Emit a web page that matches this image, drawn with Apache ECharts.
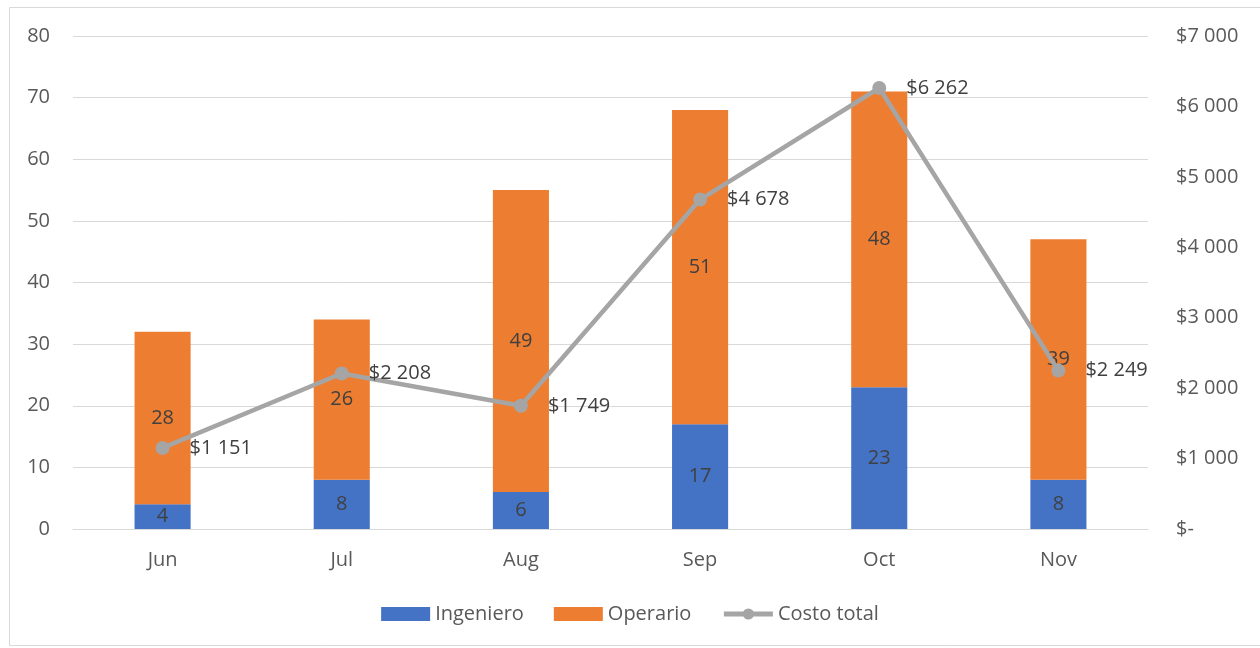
<!DOCTYPE html>
<html>
<head>
<meta charset="utf-8">
<script src="https://cdn.jsdelivr.net/npm/echarts@6/dist/echarts.min.js"></script>
<style>
  html, body { margin: 0; padding: 0; background: #fff; }
  #chart { width: 1260px; height: 648px; }
</style>
</head>
<body>
<div id="chart"></div>
<script>
// Monthly headcount by role (stacked bars) and total cost (line, right axis)
const months = ['Jun', 'Jul', 'Aug', 'Sep', 'Oct', 'Nov'];
const ingeniero = [4, 8, 6, 17, 23, 8];
const operario = [28, 26, 49, 51, 48, 39];
const costoTotal = [1151, 2208, 1749, 4678, 6262, 2249];

const FONT = '"Open Sans", "Liberation Sans", sans-serif';
const TEXT = '#595959';
const LABEL = '#404040';
const FS = 20;

function money(v) {
  if (v === 0) return '$-';
  const s = Math.round(v).toString().replace(/\B(?=(\d{3})+(?!\d))/g, ' ');
  return '$' + s;
}

const chart = echarts.init(document.getElementById('chart'), null, { renderer: 'canvas' });
chart.setOption({
  animation: false,
  backgroundColor: '#ffffff',
  textStyle: { fontFamily: FONT },
  graphic: [{
    type: 'rect',
    shape: { x: 9.5, y: 7.5, width: 1260, height: 638 },
    style: { fill: 'none', stroke: '#d9d9d9', lineWidth: 1 },
    silent: true,
    z: -1
  }],
  grid: { left: 73, right: 112, top: 36, bottom: 119 },
  legend: {
    bottom: 19,
    left: 'center',
    itemGap: 30,
    itemWidth: 49,
    itemHeight: 14,
    textStyle: { color: TEXT, fontSize: FS, fontFamily: FONT },
    data: [
      { name: 'Ingeniero', icon: 'rect' },
      { name: 'Operario', icon: 'rect' },
      { name: 'Costo total', lineStyle: { width: 5, color: '#a5a5a5' } }
    ]
  },
  xAxis: {
    type: 'category',
    data: months,
    axisLine: { show: true, lineStyle: { color: '#d9d9d9', width: 1 } },
    axisTick: { show: false },
    axisLabel: { color: TEXT, fontSize: FS, margin: 21, fontFamily: FONT }
  },
  yAxis: [{
    type: 'value',
    min: 0,
    max: 80,
    interval: 10,
    axisLine: { show: false },
    axisTick: { show: false },
    splitLine: { lineStyle: { color: '#d9d9d9', width: 1 } },
    axisLabel: { color: TEXT, fontSize: FS, margin: 23, fontFamily: FONT }
  }, {
    type: 'value',
    min: 0,
    max: 7000,
    interval: 1000,
    position: 'right',
    axisLine: { show: false },
    axisTick: { show: false },
    splitLine: { show: false },
    axisLabel: {
      color: TEXT, fontSize: FS, margin: 28, fontFamily: FONT,
      formatter: money
    }
  }],
  series: [{
    name: 'Ingeniero',
    type: 'bar',
    stack: 'personal',
    barWidth: '31.3%',
    data: ingeniero,
    itemStyle: { color: '#4472c4' },
    label: { show: true, position: 'inside', color: LABEL, fontSize: FS, fontFamily: FONT }
  }, {
    name: 'Operario',
    type: 'bar',
    stack: 'personal',
    barWidth: '31.3%',
    data: operario,
    itemStyle: { color: '#ed7d31' },
    label: { show: true, position: 'inside', color: LABEL, fontSize: FS, fontFamily: FONT }
  }, {
    name: 'Costo total',
    type: 'line',
    yAxisIndex: 1,
    data: costoTotal,
    symbol: 'circle',
    symbolSize: 14,
    lineStyle: { color: '#a5a5a5', width: 4.5 },
    itemStyle: { color: '#a5a5a5' },
    label: {
      show: true, position: 'right', distance: 20,
      color: LABEL, fontSize: FS, fontFamily: FONT,
      formatter: p => money(p.value)
    },
    z: 5
  }]
});
</script>
</body>
</html>
